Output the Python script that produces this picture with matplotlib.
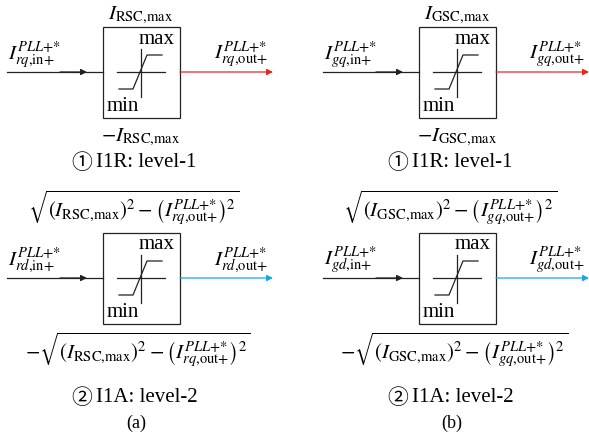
import matplotlib.pyplot as plt
from matplotlib.patches import Rectangle

plt.rcParams['mathtext.fontset'] = 'stix'
plt.rcParams['font.family'] = ['Liberation Serif', 'DejaVu Sans']

# diagram content
converters = ['RSC', 'GSC']
prefixes = ['r', 'g']
panel_labels = ['(a)', '(b)']
axis_names = ['q', 'd']
level_marks = ['\u2460', '\u2461']
level_labels = ['I1R: level-1', 'I1A: level-2']
out_colors = ['#e8261e', '#19a6e6']

fig = plt.figure(figsize=(5.89, 4.39), dpi=100)
ax = fig.add_axes([0, 0, 1, 1])
ax.set_xlim(0, 589)
ax.set_ylim(439, 0)
ax.axis('off')

fs = 15
lw = 0.9
sup = r'PLL{+}{*}'


def cur(p, a, where):
	# current symbol, e.g. I_{rq,in+}^{PLL+*}
	return r'I_{%s%s{,}\mathrm{%s}{+}}^{%s}' % (p, a, where, sup)


def imax(c):
	return r'I_{\mathrm{%s{,}max}}' % c


def level_text(ax, x0, y, k):
	ax.text(x0 + 82, y, level_marks[k], fontsize=fs, ha='center', va='center',
			family=['Noto Sans CJK SC', 'DejaVu Sans'])
	ax.text(x0 + 96, y, level_labels[k], fontsize=fs, ha='left', va='center')


def limiter(ax, x0, yc, color):
	# input line with arrowhead part way along
	ax.plot([x0 + 7, x0 + 103], [yc, yc], color='#222222', lw=lw)
	ax.annotate('', xy=(x0 + 87, yc), xytext=(x0 + 60, yc),
				arrowprops=dict(arrowstyle='-|>', color='#222222', lw=lw,
								mutation_scale=9, shrinkA=0, shrinkB=0))
	# box
	ax.add_patch(Rectangle((x0 + 103, yc - 45), 77, 91, fill=False,
						   ec='#222222', lw=lw))
	# saturation symbol
	ax.plot([x0 + 117, x0 + 165], [yc, yc], color='#222222', lw=lw)
	ax.plot([x0 + 141, x0 + 141], [yc - 23, yc + 25], color='#222222', lw=lw)
	ax.plot([x0 + 119, x0 + 133, x0 + 147, x0 + 162],
			[yc + 17, yc + 17, yc - 17, yc - 17], color='#222222', lw=lw)
	ax.text(x0 + 157, yc - 34, 'max', fontsize=fs, ha='center', va='center')
	ax.text(x0 + 123, yc + 34, 'min', fontsize=fs, ha='center', va='center')
	# output arrow
	ax.annotate('', xy=(x0 + 273, yc), xytext=(x0 + 180, yc),
				arrowprops=dict(arrowstyle='-|>', color=color, lw=lw,
								mutation_scale=9, shrinkA=0, shrinkB=0))


for i in range(2):
	x0 = 316 * i
	c = converters[i]
	p = prefixes[i]
	out_q = cur(p, axis_names[0], 'out')
	sq = r'\sqrt{\left(%s\right)^2-\left(%s\right)^2}' % (imax(c), out_q)

	# level 1 (q axis)
	y1 = 73
	limiter(ax, x0, y1, out_colors[0])
	ax.text(x0 + 141, 15, '$' + imax(c) + '$', fontsize=fs, ha='center', va='center')
	ax.text(x0 + 8, 55, '$' + cur(p, axis_names[0], 'in') + '$', fontsize=fs, ha='left', va='center')
	ax.text(x0 + 241, 55, '$' + out_q + '$', fontsize=fs, ha='center', va='center')
	ax.text(x0 + 141, 137, '$-' + imax(c) + '$', fontsize=fs, ha='center', va='center')
	level_text(ax, x0, 163, 0)

	# level 2 (d axis)
	y2 = 279
	limiter(ax, x0, y2, out_colors[1])
	ax.text(x0 + 134, 208, '$' + sq + '$', fontsize=fs, ha='center', va='center')
	ax.text(x0 + 8, 260, '$' + cur(p, axis_names[1], 'in') + '$', fontsize=fs, ha='left', va='center')
	ax.text(x0 + 241, 260, '$' + cur(p, axis_names[1], 'out') + '$', fontsize=fs, ha='center', va='center')
	ax.text(x0 + 138, 350, '$-' + sq + '$', fontsize=fs, ha='center', va='center')
	level_text(ax, x0, 398, 1)
	ax.text(x0 + 136, 423, panel_labels[i], fontsize=13, ha='center', va='center')

fig.savefig('out.png', dpi=100)
